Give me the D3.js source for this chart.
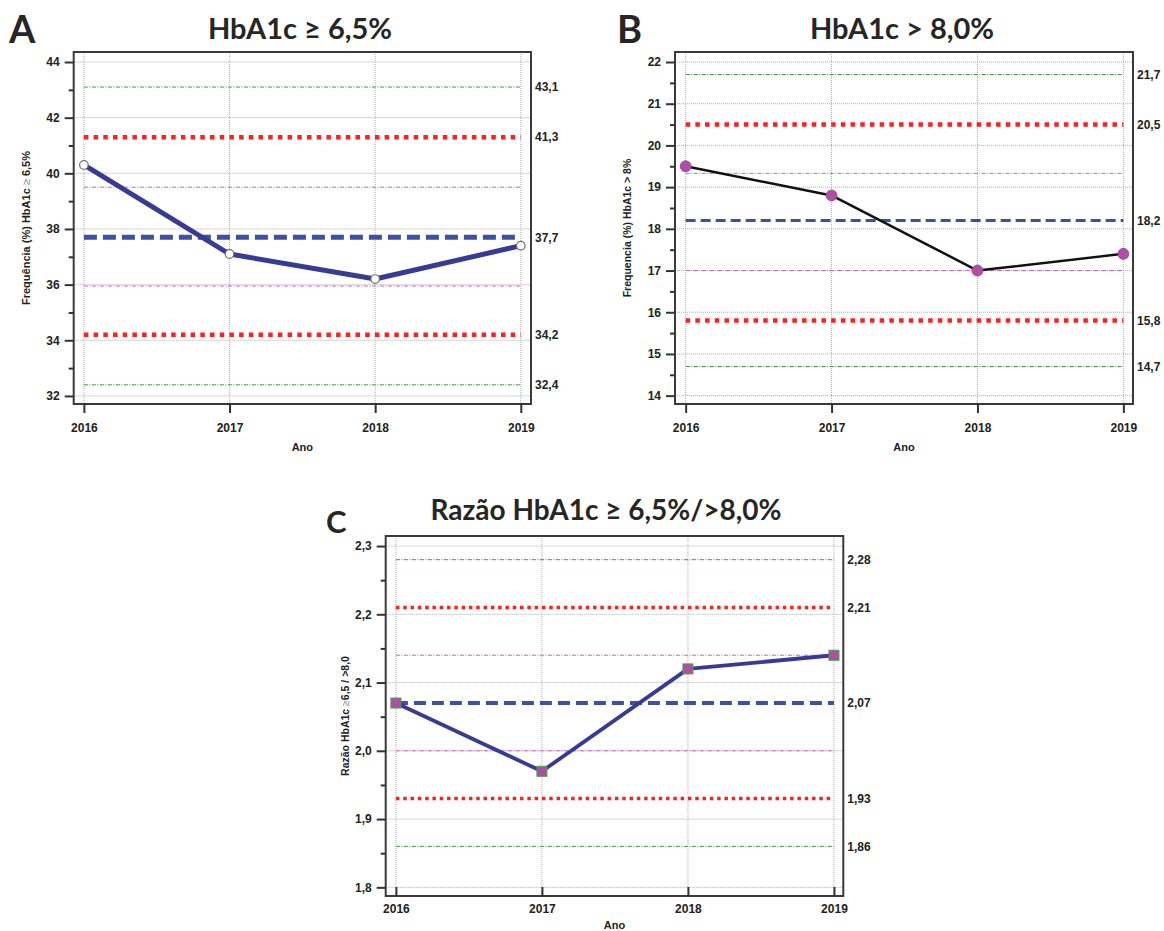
<!DOCTYPE html>
<html>
<head>
<meta charset="utf-8">
<script src="https://cdn.jsdelivr.net/npm/d3@7"></script>
<style>
  html, body { margin: 0; padding: 0; background: #fff; }
  svg { display: block; }
</style>
</head>
<body>
<svg id="chart" width="1164" height="931"></svg>
<script>
// Years on the x axis (shared by all three panels)
const years = [2016, 2017, 2018, 2019];

// Panel A: HbA1c >= 6,5 %
const freqA = [40.3, 37.1, 36.2, 37.4];
const yTicksA = [32, 34, 36, 38, 40, 42, 44];
const yMinorA = [33, 35, 37, 39, 41, 43];
const centerA = 37.7;
const sigma1A = [39.5, 35.95];
const sigma2A = [41.3, 34.2];
const sigma3A = [43.1, 32.4];

// Panel B: HbA1c > 8,0 %
const freqB = [19.5, 18.8, 17.0, 17.4];
const yTicksB = [14, 15, 16, 17, 18, 19, 20, 21, 22];
const yMinorB = [14.5, 15.5, 16.5, 17.5, 18.5, 19.5, 20.5, 21.5];
const centerB = 18.2;
const sigma1B = [19.33, 17.0];
const sigma2B = [20.5, 15.8];
const sigma3B = [21.7, 14.7];

// Panel C: ratio >= 6,5 % / > 8,0 %
const ratioC = [2.07, 1.97, 2.12, 2.14];
const yTicksC = [1.8, 1.9, 2.0, 2.1, 2.2, 2.3];
const yMinorC = [1.85, 1.95, 2.05, 2.15, 2.25];
const centerC = 2.07;
const sigma1C = [2.14, 2.0];
const sigma2C = [2.21, 1.93];
const sigma3C = [2.28, 1.86];

const ptBR = d3.formatLocale({decimal: ",", thousands: ".", grouping: [3], currency: ["", ""]});

const svg = d3.select("#chart");
const AXIS_FONT = "'Liberation Sans', Arial, sans-serif";
const TITLE_FONT = "Lato, 'Open Sans', sans-serif";

function drawPanel(p) {
  const g = svg.append("g");
  const x = d3.scaleLinear().domain(p.xDomain).range([p.left, p.right]);
  const y = d3.scaleLinear().domain(p.yDomain).range([p.bottom, p.top]);
  const x0 = x(years[0]), x1 = x(years[years.length - 1]);

  // plot frame background
  g.append("rect")
    .attr("x", p.left).attr("y", p.top)
    .attr("width", p.right - p.left).attr("height", p.bottom - p.top)
    .attr("fill", "#fff");

  // dotted grid
  g.append("g").selectAll("line").data(p.yTicks).join("line")
    .attr("x1", p.left).attr("x2", p.right)
    .attr("y1", d => y(d)).attr("y2", d => y(d))
    .attr("stroke", "#b0b0b0").attr("stroke-width", 1).attr("stroke-dasharray", "1,1");
  g.append("g").selectAll("line").data(years).join("line")
    .attr("y1", p.top).attr("y2", p.bottom)
    .attr("x1", d => x(d)).attr("x2", d => x(d))
    .attr("stroke", "#b0b0b0").attr("stroke-width", 1).attr("stroke-dasharray", "1,1");

  // control limits
  const hline = (v, stroke, width, dash) => g.append("line")
    .attr("x1", x0).attr("x2", x1).attr("y1", y(v)).attr("y2", y(v))
    .attr("stroke", stroke).attr("stroke-width", width).attr("stroke-dasharray", dash);

  p.sigma3.forEach(v => hline(v, "#3c9a3c", 1, "4,1.5,1,1.5"));
  p.sigma1.forEach(v => hline(v, "#cf5fc8", 1, "4,1.5,1,1.5"));
  p.sigma2.forEach(v => hline(v, "#ff1f1f", p.redW, p.redDash));
  hline(p.center, "#3d50a3", p.blueW, p.blueDash);

  // limit labels on the right
  const fmt = ptBR.format(p.limitFmt);
  const labelVals = [p.sigma3[0], p.sigma2[0], p.center, p.sigma2[1], p.sigma3[1]];
  g.append("g").selectAll("text").data(labelVals).join("text")
    .attr("x", p.right + 4).attr("y", d => y(d)).attr("dy", "0.35em")
    .attr("font-family", AXIS_FONT).attr("font-weight", "bold").attr("font-size", 12)
    .attr("fill", "#222")
    .text(d => fmt(d));

  // data series
  const line = d3.line().x((d, i) => x(years[i])).y(d => y(d));
  g.append("path").datum(p.values)
    .attr("d", line).attr("fill", "none")
    .attr("stroke", p.lineColor).attr("stroke-width", p.lineW)
    .attr("stroke-linejoin", "round");

  if (p.marker === "hollow") {
    g.append("g").selectAll("circle").data(p.values).join("circle")
      .attr("cx", (d, i) => x(years[i])).attr("cy", d => y(d)).attr("r", 4.3)
      .attr("fill", "#fff").attr("stroke", "#707070").attr("stroke-width", 1.2);
  } else if (p.marker === "dot") {
    g.append("g").selectAll("circle").data(p.values).join("circle")
      .attr("cx", (d, i) => x(years[i])).attr("cy", d => y(d)).attr("r", 5.5)
      .attr("fill", "#b04ea6").attr("stroke", "#9c3f93").attr("stroke-width", 0.8);
  } else {
    const s = 10;
    g.append("g").selectAll("rect").data(p.values).join("rect")
      .attr("x", (d, i) => x(years[i]) - s / 2).attr("y", d => y(d) - s / 2)
      .attr("width", s).attr("height", s)
      .attr("fill", "#b04ea6").attr("stroke", "#46a046").attr("stroke-width", 1);
  }

  // frame
  g.append("rect")
    .attr("x", p.left).attr("y", p.top)
    .attr("width", p.right - p.left).attr("height", p.bottom - p.top)
    .attr("fill", "none").attr("stroke", "#3a3a3a").attr("stroke-width", 2);

  // y axis: major + minor ticks
  const yAxis = g.append("g").attr("transform", `translate(${p.left},0)`)
    .call(d3.axisLeft(y).tickValues(p.yTicks).tickSize(9).tickPadding(5)
      .tickFormat(ptBR.format(p.tickFmt)));
  const yMinor = g.append("g").attr("transform", `translate(${p.left},0)`)
    .call(d3.axisLeft(y).tickValues(p.yMinor).tickSize(5).tickFormat(""));

  // x axis
  const xAxis = g.append("g").attr("transform", `translate(0,${p.bottom})`)
    .call(d3.axisBottom(x).tickValues(years).tickSize(p.xTickIn ? -9 : 9)
      .tickPadding(p.xTickIn ? 8.5 : 10.5).tickFormat(d3.format("d")));

  [yAxis, yMinor, xAxis].forEach(a => {
    a.select(".domain").remove();
    a.selectAll(".tick line").attr("stroke", "#333").attr("stroke-width", 2);
    a.selectAll(".tick text")
      .attr("font-family", AXIS_FONT).attr("font-weight", "bold")
      .attr("font-size", 12).attr("fill", "#222");
  });

  // axis titles
  g.append("text")
    .attr("x", (p.left + p.right) / 2).attr("y", p.anoY)
    .attr("text-anchor", "middle")
    .attr("font-family", AXIS_FONT).attr("font-weight", "bold").attr("font-size", 11)
    .attr("fill", "#222").text("Ano");

  const yl = g.append("text")
    .attr("transform", `translate(${p.yLabelX},${(p.top + p.bottom) / 2}) rotate(-90)`)
    .attr("text-anchor", "middle").attr("dy", "0.35em")
    .attr("font-family", AXIS_FONT).attr("font-weight", "bold").attr("font-size", p.yLabelSize)
    .attr("fill", "#222");
  p.yLabel.forEach(part => {
    yl.append("tspan").text(part.t)
      .attr("fill", part.light ? "#8a8a8a" : "#222")
      .attr("font-weight", part.light ? "normal" : "bold");
  });

  // panel title and letter
  g.append("text")
    .attr("x", p.titleX).attr("y", p.titleY).attr("text-anchor", "middle")
    .attr("font-family", TITLE_FONT).attr("font-weight", "bold")
    .attr("font-size", p.titleSize).attr("fill", "#262626")
    .text(p.title);
  g.append("text")
    .attr("x", p.letterX).attr("y", p.letterY)
    .attr("font-family", TITLE_FONT).attr("font-weight", "bold")
    .attr("font-size", p.letterSize).attr("fill", "#262626")
    .text(p.letter);
}

drawPanel({
  letter: "A", letterX: 9, letterY: 43, letterSize: 38,
  title: "HbA1c ≥ 6,5%", titleX: 300, titleY: 39, titleSize: 29,
  left: 73.7, right: 531, top: 52, bottom: 404,
  xDomain: [2015.93, 2019.07], yDomain: [31.71, 44.36],
  yTicks: yTicksA, yMinor: yMinorA, tickFmt: "d", limitFmt: ".1f",
  values: freqA, center: centerA, sigma1: sigma1A, sigma2: sigma2A, sigma3: sigma3A,
  redW: 4.5, redDash: "4.5,5.2", blueW: 5, blueDash: "13,6",
  lineColor: "#383a97", lineW: 5, marker: "hollow",
  anoY: 451, yLabelX: 26, yLabelSize: 11,
  yLabel: [{t: "Frequência (%) HbA1c "}, {t: "≥", light: true}, {t: " 6,5%"}]
});

drawPanel({
  letter: "B", letterX: 617, letterY: 43, letterSize: 38,
  title: "HbA1c > 8,0%", titleX: 902, titleY: 39, titleSize: 29,
  left: 675, right: 1133, top: 52, bottom: 404,
  xDomain: [2015.927, 2019.066], yDomain: [13.80, 22.24],
  yTicks: yTicksB, yMinor: yMinorB, tickFmt: "d", limitFmt: ".1f",
  values: freqB, center: centerB, sigma1: sigma1B, sigma2: sigma2B, sigma3: sigma3B,
  redW: 4.5, redDash: "4.5,5.2", blueW: 3.2, blueDash: "10,5",
  lineColor: "#111", lineW: 2.5, marker: "dot",
  anoY: 451, yLabelX: 627, yLabelSize: 10.5,
  yLabel: [{t: "Frequencia (%)  HbA1c > 8%"}]
});

drawPanel({
  letter: "C", letterX: 326, letterY: 533, letterSize: 31,
  title: "Razão HbA1c ≥ 6,5%/>8,0%", titleX: 606, titleY: 520, titleSize: 28,
  left: 385.7, right: 843.3, top: 536, bottom: 896,
  xDomain: [2015.93, 2019.064], yDomain: [1.7873, 2.3147],
  yTicks: yTicksC, yMinor: yMinorC, tickFmt: ".1f", limitFmt: ".2f",
  values: ratioC, center: centerC, sigma1: sigma1C, sigma2: sigma2C, sigma3: sigma3C,
  redW: 3.5, redDash: "3.5,3.8", blueW: 4, blueDash: "12,6",
  lineColor: "#383a97", lineW: 3.8, marker: "square", xTickIn: true,
  anoY: 929, yLabelX: 345, yLabelSize: 10.5,
  yLabel: [{t: "Razão HbA1c "}, {t: "≥", light: true}, {t: "6,5 / >8,0"}]
});
</script>
</body>
</html>
